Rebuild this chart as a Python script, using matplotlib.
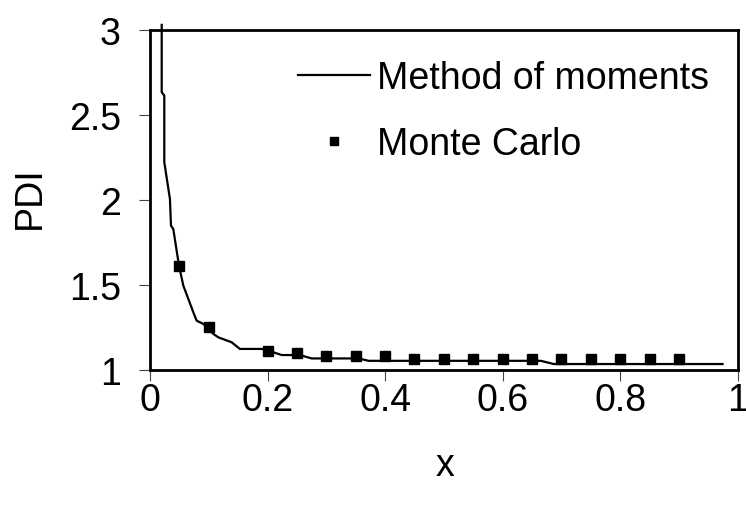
import matplotlib
matplotlib.use("Agg")
import matplotlib.pyplot as plt
from matplotlib.ticker import FormatStrFormatter

plt.rcParams['font.family'] = ['Liberation Sans', 'DejaVu Sans']

# method of moments curve
mom_x = [0.02, 0.02, 0.0244, 0.0244, 0.034, 0.0358, 0.0397, 0.0494, 0.0568, 0.0653,
         0.0738, 0.0795, 0.0909, 0.108, 0.1164, 0.139, 0.153, 0.17, 0.19, 0.205,
         0.224, 0.255, 0.275, 0.355, 0.372, 0.665, 0.687, 0.974]
mom_y = [3.03, 2.634, 2.614, 2.222, 2.006, 1.849, 1.829, 1.614, 1.496, 1.418,
         1.339, 1.29, 1.271, 1.212, 1.192, 1.163, 1.124, 1.124, 1.124, 1.11,
         1.088, 1.088, 1.068, 1.068, 1.054, 1.054, 1.035, 1.035]

# monte carlo points
mc_x = [0.05, 0.1, 0.2, 0.25, 0.3, 0.35, 0.4, 0.45, 0.5, 0.55, 0.6, 0.65,
        0.7, 0.75, 0.8, 0.85, 0.9]
mc_y = [1.61, 1.25, 1.113, 1.098, 1.082, 1.082, 1.082, 1.065, 1.065, 1.065,
        1.065, 1.065, 1.065, 1.065, 1.065, 1.065, 1.065]

xticks = [0, 0.2, 0.4, 0.6, 0.8, 1]
yticks = [1, 1.5, 2, 2.5, 3]

fig = plt.figure(figsize=(7.46, 5.06), dpi=100)
ax = fig.add_axes([0.201, 0.2668, 0.788, 0.672])

ax.plot(mom_x, mom_y, color='black', lw=1.6, label='Method of moments', clip_on=False)
ax.plot(mc_x, mc_y, ls='none', marker='s', ms=7.2, color='black', label='Monte Carlo')

ax.set_xlim(0, 1)
ax.set_ylim(1, 3)
ax.set_xticks(xticks)
ax.set_yticks(yticks)
ax.xaxis.set_major_formatter(FormatStrFormatter('%g'))
ax.yaxis.set_major_formatter(FormatStrFormatter('%g'))
ax.tick_params(direction='out', length=8, width=0.8, color='#444444', labelsize=27)
ax.tick_params(axis='x', pad=1)
ax.tick_params(axis='y', pad=13)
for s in ax.spines.values():
    s.set_linewidth(2)

ax.set_xlabel('x', fontsize=27)
ax.set_ylabel('PDI', fontsize=27)
ax.xaxis.set_label_coords(0.502, -0.227)
ax.yaxis.set_label_coords(-0.1735, 0.51)

ax.legend(loc='upper left', bbox_to_anchor=(0.2517, 0.912), frameon=False,
          fontsize=27, borderpad=0, borderaxespad=0, handlelength=1.92,
          handletextpad=0.19, labelspacing=0.8, markerscale=0.8)

fig.savefig('out.png', dpi=100)
